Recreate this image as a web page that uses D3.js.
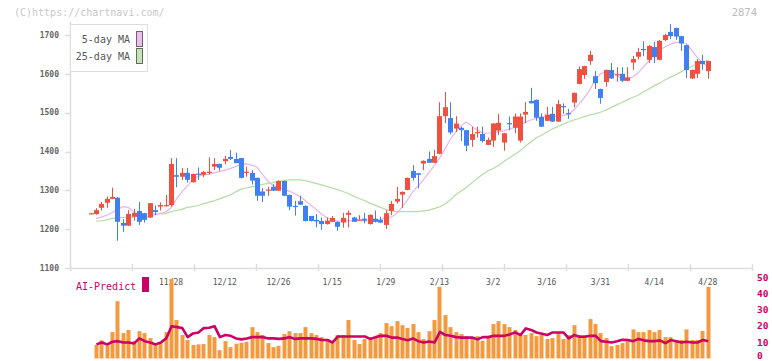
<!DOCTYPE html>
<html><head><meta charset="utf-8">
<script src="https://cdn.jsdelivr.net/npm/d3@7"></script>
<style>body{margin:0;background:#fff}svg{display:block}</style>
</head><body><svg id="c" width="772" height="361"></svg>
<script>
// ---- data ----
const open  = [1240,1239,1255,1268,1278,1281,1216,1209,1232,1247,1241,1230,1249,1258,1260,1262,1339,1335,1345,1321,1343,1340,1347,1361,1368,1375,1386,1381,1383,1347,1345,1332,1297,1300,1309,1299,1324,1288,1260,1272,1260,1234,1224,1221,1213,1219,1219,1217,1237,1230,1223,1227,1213,1227,1224,1211,1247,1271,1289,1301,1350,1344,1369,1381,1371,1394,1491,1486,1459,1461,1455,1430,1449,1445,1417,1428,1454,1423,1473,1461,1428,1495,1530,1533,1489,1479,1497,1477,1517,1499,1526,1574,1597,1633,1594,1561,1579,1610,1598,1600,1582,1629,1644,1664,1636,1669,1636,1687,1708,1718,1697,1674,1588,1600,1633,1607];
const high  = [1242,1254,1270,1284,1307,1283,1226,1249,1252,1270,1242,1267,1261,1269,1288,1383,1383,1358,1358,1343,1359,1350,1385,1383,1369,1389,1404,1397,1384,1361,1352,1333,1306,1309,1316,1326,1325,1289,1273,1286,1261,1234,1239,1230,1230,1234,1220,1242,1248,1232,1236,1242,1238,1248,1232,1249,1273,1309,1297,1333,1365,1345,1377,1400,1404,1527,1553,1527,1491,1464,1456,1464,1464,1464,1436,1473,1497,1448,1490,1498,1498,1527,1564,1534,1498,1515,1515,1533,1524,1510,1552,1619,1621,1659,1607,1562,1611,1628,1617,1617,1617,1646,1667,1684,1674,1682,1687,1703,1728,1719,1698,1675,1611,1638,1649,1634];
const low   = [1239,1237,1248,1255,1277,1170,1193,1208,1222,1211,1217,1229,1236,1248,1258,1258,1308,1327,1320,1320,1327,1334,1341,1352,1350,1367,1378,1370,1331,1335,1315,1273,1270,1286,1299,1299,1285,1249,1235,1263,1220,1220,1205,1198,1212,1218,1196,1204,1204,1219,1223,1215,1212,1217,1216,1201,1236,1266,1255,1300,1325,1305,1352,1371,1370,1393,1473,1444,1450,1427,1401,1412,1436,1423,1416,1412,1442,1402,1455,1447,1423,1473,1524,1479,1463,1478,1476,1476,1497,1484,1514,1573,1587,1623,1561,1523,1567,1587,1580,1579,1581,1610,1637,1646,1628,1628,1635,1684,1690,1687,1659,1589,1587,1589,1610,1587];
const close = [1241,1249,1265,1278,1283,1219,1209,1239,1242,1219,1224,1267,1244,1262,1262,1368,1335,1345,1327,1342,1340,1347,1348,1368,1358,1381,1381,1370,1332,1348,1325,1286,1286,1302,1299,1324,1286,1258,1258,1263,1221,1221,1220,1213,1222,1229,1206,1229,1242,1219,1225,1222,1237,1219,1217,1241,1265,1278,1296,1332,1332,1340,1376,1371,1388,1491,1514,1449,1472,1455,1415,1445,1450,1427,1430,1472,1474,1447,1472,1490,1490,1502,1524,1487,1464,1495,1477,1522,1515,1497,1551,1612,1620,1649,1576,1538,1610,1588,1599,1582,1591,1638,1656,1662,1672,1643,1685,1700,1697,1696,1678,1610,1610,1633,1625,1633];
const ma5   = [null,1228,1231,1236,1243,1251,1258,1256,1245,1235,1229,1233,1238,1241,1244,1255,1278,1296,1311,1327,1336,1340,1341,1345,1348,1352,1356,1361,1367,1368,1365,1360,1342,1324,1312,1307,1303,1298,1292,1284,1274,1262,1251,1239,1230,1224,1221,1221,1222,1222,1222,1221,1222,1222,1224,1230,1231,1240,1256,1275,1296,1311,1327,1345,1363,1383,1406,1431,1450,1466,1476,1466,1455,1448,1447,1449,1451,1453,1457,1462,1467,1475,1481,1485,1489,1490,1490,1491,1493,1495,1507,1522,1539,1558,1584,1600,1606,1605,1597,1587,1587,1592,1602,1618,1633,1651,1661,1669,1676,1681,1682,1678,1661,1643,1628,1620];
const ma25  = [null,1221,1221,1224,1227,1229,1230,1230,1231,1236,1239,1239,1239,1239,1240,1245,1248,1251,1256,1258,1261,1265,1269,1273,1278,1283,1288,1296,1303,1306,1309,1312,1315,1318,1320,1323,1325,1327,1327,1327,1325,1321,1318,1314,1310,1306,1302,1297,1292,1285,1279,1274,1267,1262,1256,1251,1247,1245,1245,1245,1245,1245,1247,1249,1253,1257,1265,1275,1288,1298,1307,1319,1330,1341,1350,1356,1364,1374,1383,1392,1401,1414,1424,1435,1442,1450,1458,1464,1470,1476,1481,1485,1490,1494,1497,1501,1507,1513,1520,1526,1533,1539,1545,1553,1561,1569,1576,1584,1591,1597,1605,1612,1619,1625,1630,1636];
const volume = [null,8.3,11.2,9.1,16.3,35.5,15.7,17.6,10.7,16.9,15.7,12.6,8.7,9.9,16.3,49.2,23.8,14.5,11.4,8.3,8.7,8.9,14.5,13.2,5.1,10.7,7,9.1,9.7,10.3,19.4,16.3,14.5,9.5,7,7.8,15.1,16.9,15.7,15.7,19.4,15.7,14.5,13.2,12,9.5,14.5,14.5,23.8,11.4,8.9,12,13.2,13.2,15.7,21.9,20,23.1,20.6,18.9,21.3,16.3,12,16.9,23.8,44.4,26.9,19.4,16.3,15.1,13.8,12.6,13.8,10.9,13.8,21.3,23.1,21.3,19.4,17.6,15.7,14.5,15.7,13.8,14.5,12,12.6,15.7,12,14.5,20.6,14.5,14.5,24.4,21.3,15.7,12.6,7.6,8.3,9.5,10.7,18,16.3,16.3,17.6,16.3,17.6,13.2,13.2,11.4,11.4,18,11.4,11.4,17,44.4];
const aiPredict = [null,8.7,9.9,8.7,10.3,10.7,9.9,9.9,9.3,12.4,10.7,9.9,8.7,9.9,12.4,20,19.4,18.8,13.2,15.5,16.1,18.8,19,20,13.2,14.5,14,12.4,11.8,12.4,13.2,13.2,13.2,12.4,12.4,12.1,12.4,13.2,12.1,12.4,12.4,12.4,12.1,11.4,11.4,9.9,13.6,13.6,13.6,13.6,13.6,13.6,12.1,13.2,14,14,12.9,12.9,12.1,11.3,12.3,10.7,9.9,10.5,9.9,16.5,14.5,14,13.2,12.9,12.9,12.9,11.8,13.2,13.2,14,14,14,14.9,16.1,14.5,18.6,17.6,16.1,15.3,14.5,16.1,16.1,16.1,12.4,14.5,13.4,13.4,14,14,10.7,10.3,9.9,10.7,11.6,11.4,10.7,12.1,11.2,10.7,10.7,11.2,9.5,11.4,10.7,9.9,10.3,9.9,9.9,11.4,10.7];
const xLabels   = ["11/28","12/12","12/26","1/15","1/29","2/13","3/2","3/16","3/31","4/14","4/28"];
const xLabelIdx = [15,25,35,45,55,65,75,85,95,105,115];
const priceTicks = [1100,1200,1300,1400,1500,1600,1700];
const aiTicks = [0,10,20,30,40,50];

// ---- drawing ----
const svg = d3.select("#c");
const FONT = "'DejaVu Sans Mono', monospace";
const N = close.length;
const x = d3.scaleLinear().domain([0, N-1]).range([90.6, 707.8]);
const y = d3.scaleLinear().domain([1100, 1700]).range([268, 35]);
const vy = d3.scaleLinear().domain([0, 50]).range([358.4, 277.8]);
const gridX = d3.scaleLinear().domain([0, 11]).range([70, 752]);
const idx = d3.range(N);
const px = v => Math.round(v) + 0.5;

// header texts
svg.append("text").attr("x",14).attr("y",16).text("(C)https://chartnavi.com/")
  .attr("font-family",FONT).attr("font-size",10).attr("fill","#c8c8c8");
svg.append("text").attr("x",757).attr("y",16).attr("text-anchor","end").text("2874")
  .attr("font-family",FONT).attr("font-size",10.5).attr("fill","#bbbbbb");

// axes
const axisG = svg.append("g").attr("stroke","#dddddd").attr("stroke-width",1.5);
axisG.append("line").attr("x1",70.5).attr("x2",70.5).attr("y1",22).attr("y2",270);
axisG.append("line").attr("x1",70).attr("x2",752).attr("y1",268.5).attr("y2",268.5);
priceTicks.forEach(t => {
  axisG.append("line").attr("x1",65).attr("x2",70).attr("y1",px(y(t))).attr("y2",px(y(t)));
});
d3.range(12).forEach(k => {
  axisG.append("line").attr("x1",px(gridX(k))).attr("x2",px(gridX(k))).attr("y1",264).attr("y2",271);
});
svg.append("g").selectAll("text").data(priceTicks).join("text")
  .attr("x",59).attr("y",d=>y(d)).attr("dy","0.35em").attr("text-anchor","end")
  .attr("font-family",FONT).attr("font-size",8).attr("font-weight","bold").attr("fill","#666")
  .text(d=>d);

// x labels
svg.append("g").selectAll("text").data(xLabels).join("text")
  .attr("x",(d,i)=>x(xLabelIdx[i])).attr("y",282).attr("dy","0.35em").attr("text-anchor","middle")
  .attr("font-family",FONT).attr("font-size",8).attr("fill","#555")
  .text(d=>d);

// moving averages
const lineGen = d3.line().defined(d=>d[1]!=null).x(d=>x(d[0])).y(d=>y(d[1]));
svg.append("path").attr("d",lineGen(idx.map(i=>[i,ma25[i]])))
  .attr("fill","none").attr("stroke","#b4dca4").attr("stroke-width",1.2);
svg.append("path").attr("d",lineGen(idx.map(i=>[i,ma5[i]])))
  .attr("fill","none").attr("stroke","#e8b4ec").attr("stroke-width",1.2);

// candles
const cg = svg.append("g");
idx.forEach(i => {
  const up = close[i] >= open[i];
  const col = up ? "#f05040" : "#4080f0";
  const cx = Math.round(x(i));
  cg.append("line").attr("x1",cx+0.5).attr("x2",cx+0.5)
    .attr("y1",y(high[i])).attr("y2",y(low[i])).attr("stroke",col).attr("stroke-width",1);
  const yt = y(Math.max(open[i],close[i])), yb = y(Math.min(open[i],close[i]));
  cg.append("rect").attr("x",cx-2).attr("width",5)
    .attr("y",yt).attr("height",Math.max(1.2, yb-yt)).attr("fill",col);
});

// legend
const lg = svg.append("g");
lg.append("rect").attr("x",70.5).attr("y",24.5).attr("width",77).attr("height",47)
  .attr("fill","#fff").attr("stroke","#dddddd").attr("stroke-width",1);
[["5-day MA","#f0bcf0",39],["25-day MA","#c4e4b4",56]].forEach(([t,c,yy])=>{
  lg.append("text").attr("x",130).attr("y",yy).attr("dy","0.35em").attr("text-anchor","end")
    .attr("font-family",FONT).attr("font-size",10).attr("fill","#555").text(t);
  lg.append("rect").attr("x",136.5).attr("y",yy-7.5).attr("width",6).attr("height",15)
    .attr("fill",c).attr("stroke","#666").attr("stroke-width",1);
});

// bottom panel: volume bars
svg.append("g").selectAll("rect").data(idx.filter(i=>volume[i]!=null)).join("rect")
  .attr("x",i=>Math.round(x(i))-1.5).attr("width",4)
  .attr("y",i=>vy(volume[i])).attr("height",i=>vy(0)-vy(volume[i]))
  .attr("fill","#f39a40");

// AI predict line
svg.append("path").attr("d", d3.line().defined(d=>d[1]!=null).x(d=>x(d[0])+0.5).y(d=>vy(d[1]))(idx.map(i=>[i,aiPredict[i]])))
  .attr("fill","none").attr("stroke","#cc0066").attr("stroke-width",2.6).attr("stroke-linejoin","round");

// AI legend
svg.append("text").attr("x",76).attr("y",286).attr("dy","0.35em")
  .attr("font-family",FONT).attr("font-size",10).attr("fill","#cc0066").text("AI-Predict");
svg.append("rect").attr("x",142).attr("y",277).attr("width",7).attr("height",15).attr("fill","#cc0066");

// right axis labels
svg.append("g").selectAll("text").data(aiTicks).join("text")
  .attr("x",757).attr("y",d=>Math.min(vy(d), 355.5)).attr("dy","0.35em")
  .attr("font-family",FONT).attr("font-size",9.5).attr("font-weight","bold").attr("fill","#cc0066")
  .text(d=>d);
</script></body></html>
